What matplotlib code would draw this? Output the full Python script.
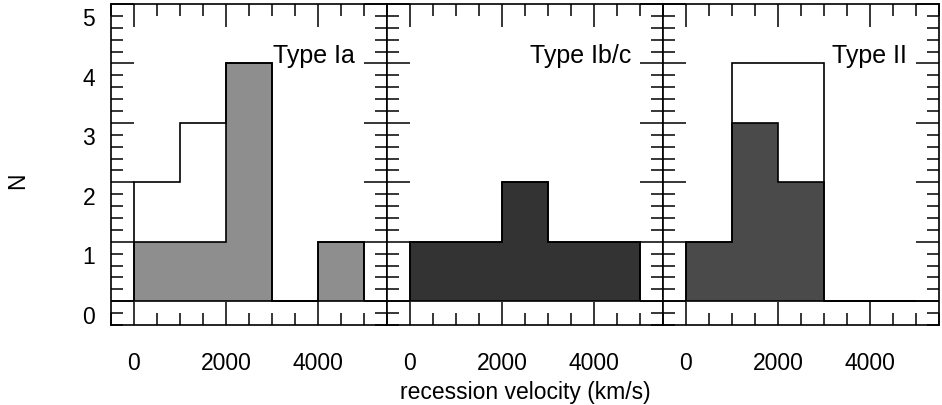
import numpy as np
import matplotlib
matplotlib.use('Agg')
from matplotlib import pyplot as plt
from matplotlib.ticker import MultipleLocator, FixedLocator

plt.rcParams['font.family'] = ['Liberation Sans', 'DejaVu Sans']

# data: counts per 1000 km/s bin
edges = [0, 1000, 2000, 3000, 4000, 5000]
ia_all = [2, 3, 4, 0, 1]
ia_sub = [1, 1, 4, 0, 1]
ibc_all = [1, 1, 2, 1, 1]
ibc_sub = [1, 1, 2, 1, 1]
ii_all = [1, 4, 4, 0, 0]
ii_sub = [1, 3, 2, 0, 0]
titles = ['Type Ia', 'Type Ib/c', 'Type II']
y_labels = ['0', '1', '2', '3', '4', '5']
x_ticks = [0, 2000, 4000]

panels = [(ia_all, ia_sub, '#8e8e8e'),
          (ibc_all, ibc_sub, '#333333'),
          (ii_all, ii_sub, '#4a4a4a')]

off = 0.2  # histograms sit on a raised zero line in the original
W, H = 942, 406
fig = plt.figure(figsize=(W/100, H/100), dpi=100)

lefts = [111, 387, 663]
for i in range(3):
    ax = fig.add_axes([lefts[i]/W, 1-326/H, 276/W, 321/H])
    tot, sub, col = panels[i]
    ax.stairs(np.array(sub)+off, edges, baseline=off, fill=True,
              facecolor=col, edgecolor='none', zorder=2)
    ax.stairs(np.array(sub)+off, edges, baseline=off, fill=False,
              color='black', lw=1.2, zorder=3)
    ax.stairs(np.array(tot)+off, edges, baseline=off, fill=False,
              color='black', lw=1.2, zorder=3)
    ax.axhline(off, color='black', lw=1.2, zorder=3)

    ax.set_xlim(-500, 5500)
    ax.set_ylim(-0.2, 5.2)
    ax.xaxis.set_major_locator(FixedLocator(x_ticks))
    ax.xaxis.set_minor_locator(MultipleLocator(500))
    ax.yaxis.set_major_locator(FixedLocator(np.arange(6)+off))
    ax.yaxis.set_minor_locator(MultipleLocator(0.2))
    ax.tick_params(which='both', direction='in', top=True, right=True,
                   width=1.1, color='black')
    ax.tick_params(which='major', length=16.5)
    ax.tick_params(which='minor', length=8.5)
    ax.tick_params(axis='x', labelsize=16.5, pad=19)
    ax.tick_params(axis='y', labelleft=False)
    for s in ax.spines.values():
        s.set_linewidth(1.2)
    ax.set_xticklabels([str(t) for t in x_ticks])

    if i == 0:
        for n, lab in enumerate(y_labels):
            ax.text(-16/276, n - 0.05, lab, transform=ax.get_yaxis_transform(),
                    ha='right', va='center', fontsize=16.5)

    ax.text(0.885, 0.819, titles[i], transform=ax.transAxes,
            ha='right', va='baseline', fontsize=18, zorder=5)

fig.text(18/W, 1-181/H, 'N', rotation=90, ha='center', va='center', fontsize=16.5)
fig.text(525/W, 1-399/H, 'recession velocity (km/s)', ha='center', va='baseline',
         fontsize=16.5)

fig.savefig('out.png', dpi=100)
